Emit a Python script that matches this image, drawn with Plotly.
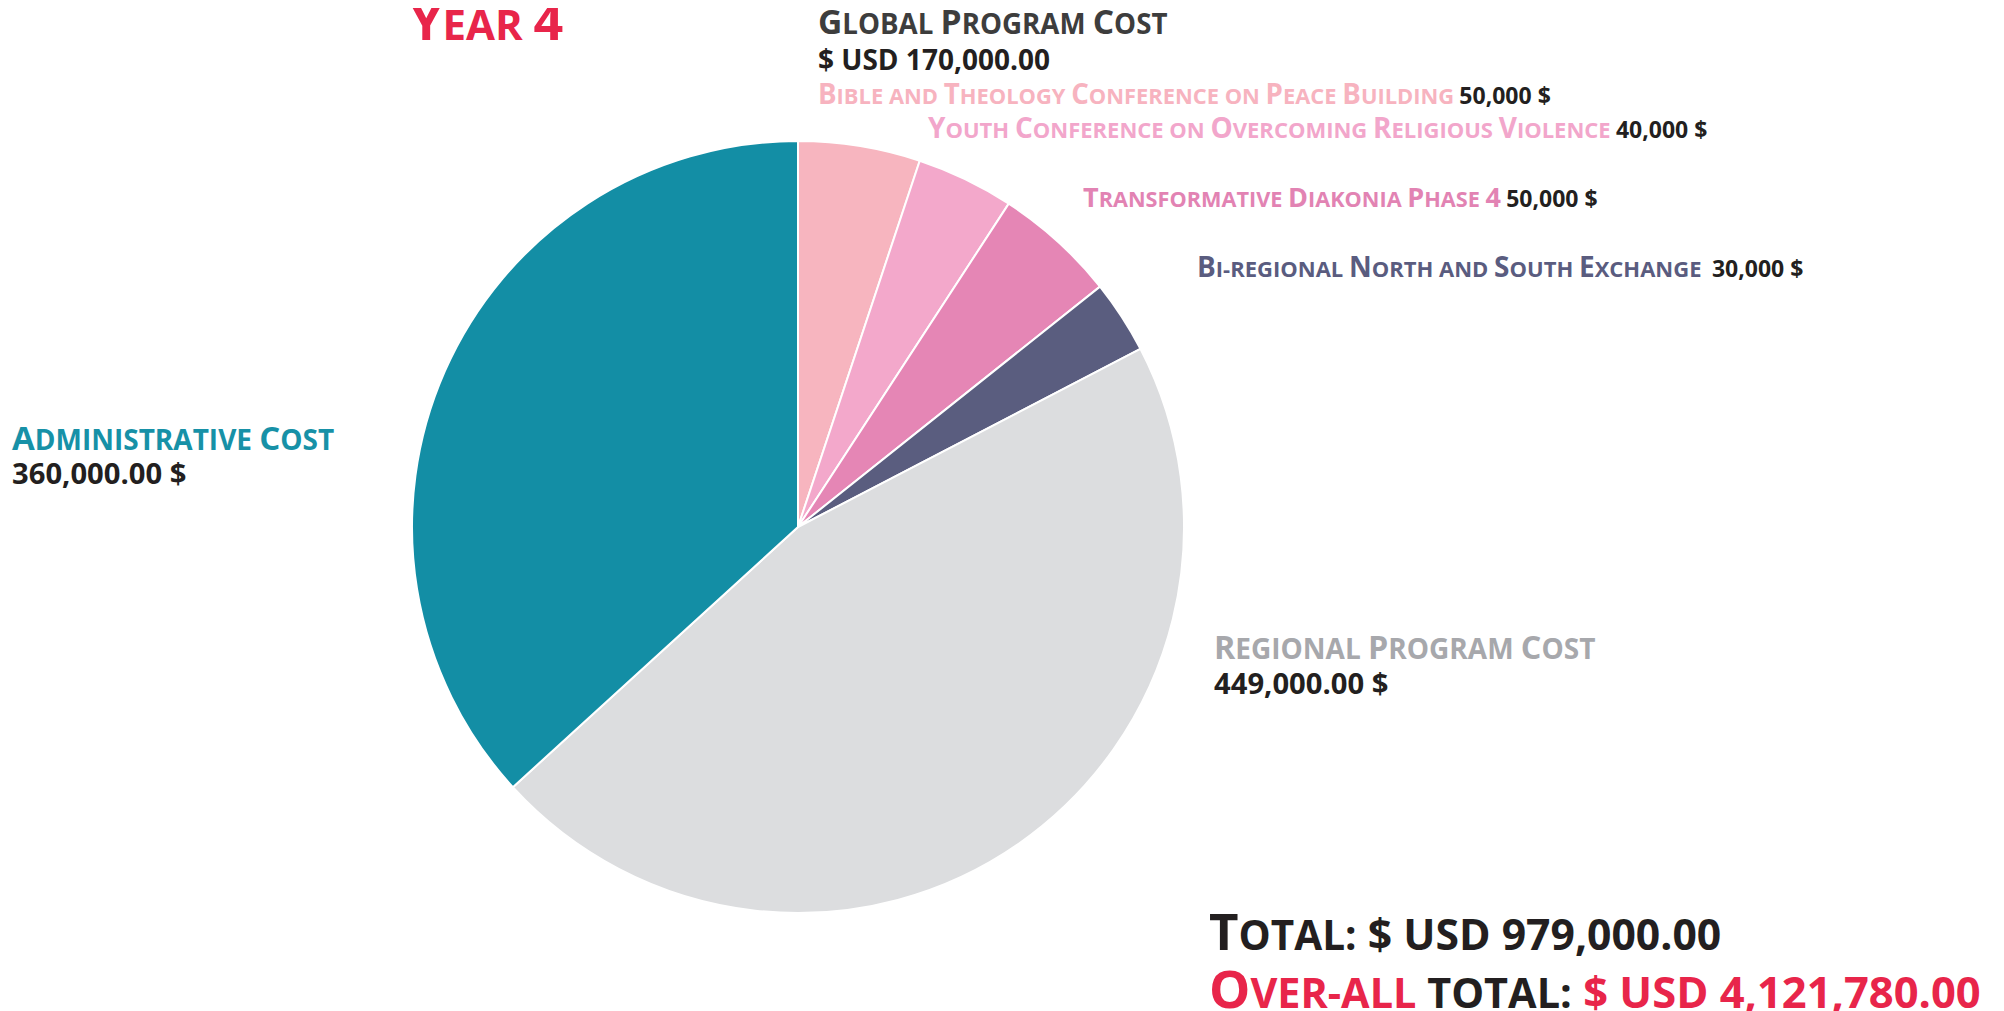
import plotly.graph_objects as go

# ---- data ----
labels = [
    "Bible and Theology Conference on Peace Building",
    "Youth Conference on Overcoming Religious Violence",
    "Transformative Diakonia Phase 4",
    "Bi-regional North and South Exchange",
    "Regional Program Cost",
    "Administrative Cost",
]
values = [50000, 40000, 50000, 30000, 449000, 360000]
colors = ["#F7B5BF", "#F3A8CB", "#E586B5", "#5A5D7F", "#DCDDDF", "#138EA5"]
label_colors = ["#F7B3BF", "#F2A6CB", "#E283B3", "#5A5C7F", "#A7A8AC", "#1791A7"]
overall_total = 4121780
year_title = "Year 4"

W, H = 2004, 1011
DARK = "#231F20"
RED = "#E8254A"
FONT = "Open Sans"


def sc(text, big, small, color):
    """Emulated small caps: uppercase letters/digits at big size, others uppercased small."""
    segs = []
    for ch in text:
        size = big if (ch.isupper() or ch.isdigit()) else small
        if segs and segs[-1][0] == size:
            segs[-1][1] += ch.upper()
        else:
            segs.append([size, ch.upper()])
    return "".join(
        f'<span style="font-size:{s}px;color:{color}">{t}</span>' for s, t in segs
    )


def plain(text, size, color):
    return f'<span style="font-size:{size}px;color:{color}">{text}</span>'


def px(x, y):
    return x / W, 1 - y / H


CX, CY, R = 790, 519, 386
fig = go.Figure(
    go.Pie(
        labels=labels,
        values=values,
        marker=dict(colors=colors, line=dict(color="white", width=2)),
        sort=False,
        direction="clockwise",
        rotation=0,
        textinfo="none",
        hoverinfo="label+value",
        domain=dict(
            x=[(CX - R) / W, (CX + R) / W],
            y=[(H - CY - R) / H, (H - CY + R) / H],
        ),
    )
)

anns = []


def add(text, x, y, xanchor="left"):
    ax, ay = px(x, y)
    anns.append(
        dict(
            text=text, x=ax, y=ay, xref="paper", yref="paper",
            xanchor=xanchor, yanchor="middle", showarrow=False,
            font=dict(family=FONT, size=20, color=DARK, weight=700),
        )
    )


global_total = sum(values[:4])
total = sum(values)

add(sc(year_title, 52, 42, RED), 400, 12)
add(sc("Global Program Cost", 33.6, 27.7, "#3D3D3D"), 808, 13)
add(plain(f"$ USD {global_total:,.2f}", 28, DARK), 808, 51)

prog_pos = [(808, 85), (918, 119), (1073, 188), (1187, 258)]
prog_sizes = [(27.7, 21.9), (28, 22), (27, 21.7), (28, 22)]
for i, (x, y) in enumerate(prog_pos):
    sep = " " if i < 3 else "  "
    b, s = prog_sizes[i]
    add(sc(labels[i], b, s, label_colors[i]) + sep + plain(f"{values[i]:,} $", 23, DARK), x, y)

add(sc(labels[5], 33, 28, label_colors[5]), 2, 429)
add(plain(f"{values[5]:,.2f} $", 29.2, DARK), 2, 465)

add(sc(labels[4], 32.3, 28, label_colors[4]), 1204, 638)
add(plain(f"{values[4]:,.2f} $", 29.2, DARK), 1204, 675)

add(sc("Total:", 51, 40.5, DARK) + plain(f" $ USD {total:,.2f}", 42.7, DARK), 1199, 922)
add(sc("Over-all", 52, 41.4, RED) + sc(" total:", 41.4, 41.4, DARK)
    + plain(f" $ USD {overall_total:,.2f}", 43.5, RED), 1199, 979)

fig.update_layout(
    width=W, height=H,
    margin=dict(l=0, r=0, t=0, b=0),
    paper_bgcolor="white", plot_bgcolor="white",
    showlegend=False,
    annotations=anns,
)

fig.write_html("out.html")
